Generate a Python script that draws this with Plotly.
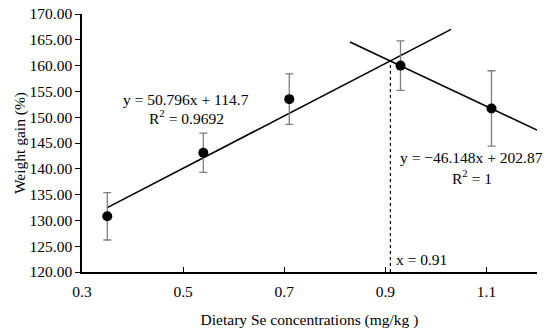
import plotly.graph_objects as go

# Data
se_levels = [0.35, 0.54, 0.71, 0.93, 1.11]
weight_gain = [130.8, 143.1, 153.5, 160.0, 151.7]
weight_gain_err = [4.6, 3.8, 4.9, 4.8, 7.3]

# Broken-line regression equations
fit1_slope, fit1_intercept = 50.796, 114.7
fit1_x = [0.35, 1.03]
fit2_slope, fit2_intercept = -46.148, 202.87
fit2_x = [0.83, 1.2]
breakpoint_x = 0.91

x_ticks = [0.3, 0.5, 0.7, 0.9, 1.1]
y_ticks = [120, 125, 130, 135, 140, 145, 150, 155, 160, 165, 170]

FONT = "Liberation Serif, Times New Roman, serif"
FS = 15.5

fig = go.Figure()

fig.add_trace(go.Scatter(
    x=fit1_x, y=[fit1_slope * v + fit1_intercept for v in fit1_x],
    mode="lines", line=dict(color="black", width=1.6), hoverinfo="skip", showlegend=False))
fig.add_trace(go.Scatter(
    x=fit2_x, y=[fit2_slope * v + fit2_intercept for v in fit2_x],
    mode="lines", line=dict(color="black", width=1.6), hoverinfo="skip", showlegend=False))

bp_y = fit1_slope * breakpoint_x + fit1_intercept
fig.add_trace(go.Scatter(
    x=[breakpoint_x, breakpoint_x], y=[120, bp_y],
    mode="lines", line=dict(color="black", width=1.2, dash="dot"), showlegend=False))

fig.add_trace(go.Scatter(
    x=se_levels, y=weight_gain, mode="markers",
    marker=dict(color="black", size=10),
    error_y=dict(type="data", array=weight_gain_err, color="#7f7f7f", thickness=1.3, width=4),
    showlegend=False))

def note(x, y, text, **kw):
    fig.add_annotation(x=x, y=y, xref="x", yref="y", showarrow=False, text=text,
                       font=dict(family=FONT, size=FS, color="black"), **kw)

note(0.506, 153.5, "y = 50.796x + 114.7")
note(0.506, 150.0, "R<sup>2</sup> = 0.9692")
note(1.071, 142.1, "y = −46.148x + 202.87")
note(1.071, 138.5, "R<sup>2</sup> = 1")
note(0.918, 122.5, "x = 0.91", xanchor="left")

fig.update_xaxes(
    range=[0.3, 1.2], tickvals=x_ticks, ticktext=[f"{v:g}" for v in x_ticks],
    showline=True, linecolor="black", linewidth=1.5, showgrid=False, zeroline=False,
    ticks="inside", ticklen=5, tickcolor="black", tickwidth=1.2, automargin=False,
    ticklabelstandoff=5,
    tickfont=dict(family=FONT, size=FS, color="black"),
    title=dict(text="Dietary Se concentrations (mg/kg )", font=dict(family=FONT, size=FS, color="black"), standoff=15),
)
fig.update_yaxes(
    range=[120, 170], tickvals=y_ticks, ticktext=[f"{v:.2f}" for v in y_ticks],
    showline=True, linecolor="black", linewidth=1.5, showgrid=False, zeroline=False,
    ticks="outside", ticklen=5, tickcolor="black", tickwidth=1.2, automargin=False,
    tickfont=dict(family=FONT, size=FS, color="black"),
    title=dict(text="Weight gain (%)", font=dict(family=FONT, size=FS, color="black"), standoff=0),
)

fig.update_layout(
    width=550, height=336,
    margin=dict(l=82, r=13, t=14, b=64),
    plot_bgcolor="white", paper_bgcolor="white",
)

# remove the default 8px page margin so the figure fills the window exactly
fig.write_html("out.html", config={"displayModeBar": False},
               post_script="document.body.style.margin='0';")
